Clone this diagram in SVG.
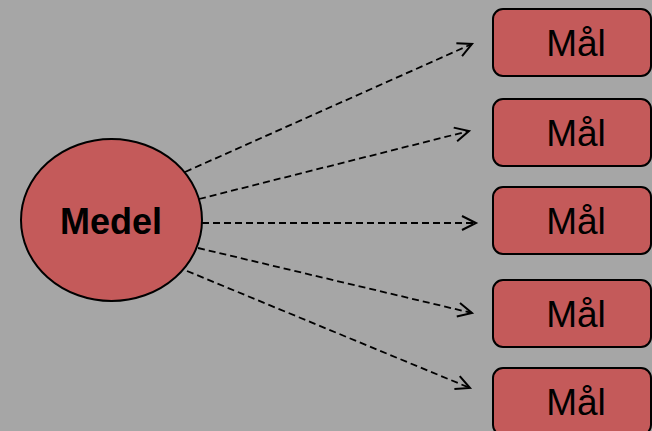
<svg xmlns="http://www.w3.org/2000/svg" width="652" height="431" viewBox="0 0 652 431">
<style>
.shape{fill:#c45a5a;stroke:#000;stroke-width:2}
.lbl{font-family:"Liberation Sans",Arial,sans-serif;font-size:37px;fill:#000;text-anchor:middle}
.bold{font-weight:bold;font-size:36px}
.conn{stroke:#000;stroke-width:1.8;stroke-dasharray:7 4;fill:none;marker-end:url(#arr)}
</style>
<defs>
<marker id="arr" markerUnits="userSpaceOnUse" markerWidth="20" markerHeight="20" refX="15" refY="8" orient="auto">
<path d="M1,1 L15,8 L1,15" fill="none" stroke="#000" stroke-width="2"/>
</marker>
</defs>
<rect width="652" height="431" fill="#a6a6a6"/>
<g id="connectors">
<line class="conn" x1="185" y1="172" x2="472" y2="44"/>
<line class="conn" x1="199" y1="199" x2="469" y2="131"/>
<line class="conn" x1="202" y1="223" x2="476" y2="223"/>
<line class="conn" x1="198" y1="248" x2="472" y2="313"/>
<line class="conn" x1="187" y1="271" x2="470" y2="388"/>
</g>
<g id="medel">
<ellipse class="shape" cx="111.5" cy="220" rx="90.5" ry="81"/>
<text class="lbl bold" x="111" y="234">Medel</text>
</g>
<g id="mal1">
<rect class="shape" x="493" y="9" width="158" height="67" rx="10"/>
<text class="lbl" x="576" y="56">Mål</text>
</g>
<g id="mal2">
<rect class="shape" x="493" y="99" width="158" height="67" rx="10"/>
<text class="lbl" x="576" y="146">Mål</text>
</g>
<g id="mal3">
<rect class="shape" x="493" y="187" width="158" height="67" rx="10"/>
<text class="lbl" x="576" y="234">Mål</text>
</g>
<g id="mal4">
<rect class="shape" x="493" y="280" width="158" height="67" rx="10"/>
<text class="lbl" x="576" y="327">Mål</text>
</g>
<g id="mal5">
<rect class="shape" x="493" y="368" width="158" height="67" rx="10"/>
<text class="lbl" x="576" y="415">Mål</text>
</g>
</svg>
